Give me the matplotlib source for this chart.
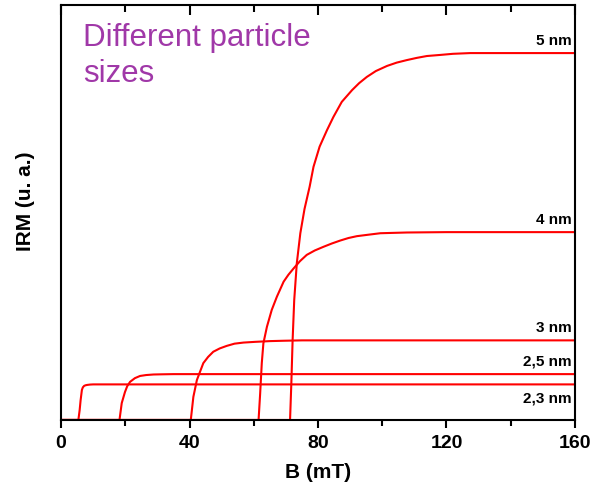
import matplotlib.pyplot as plt
from matplotlib.ticker import MultipleLocator

plt.rcParams['font.family'] = ['Liberation Sans', 'DejaVu Sans']

# IRM acquisition curves, read as (B in mT, IRM in a.u.)
b_23 = [0, 5.4, 5.8, 6.1, 6.5, 6.8, 7.2, 7.6, 8.1, 9.0, 10.0, 160]
irm_23 = [0, 0, 2.7, 5.4, 8.2, 8.9, 9.3, 9.45, 9.55, 9.65, 9.7, 9.7]

b_25 = [0, 18.2, 18.9, 19.9, 20.6, 21.5, 23.0, 24.6, 26.5, 28.8, 31.5, 35.0, 160]
irm_25 = [0, 0, 4.6, 7.6, 9.2, 10.4, 11.4, 12.0, 12.25, 12.4, 12.45, 12.5, 12.5]

b_30 = [0, 40.4, 41.2, 42.3, 44.3, 45.8, 47.4, 49.4, 51.6, 54.0, 56.8,
        60.5, 65.1, 69.5, 75.0, 160]
irm_30 = [0, 0, 6.3, 10.9, 15.5, 17.2, 18.6, 19.5, 20.2, 20.8, 21.1,
          21.3, 21.5, 21.6, 21.7, 21.7]

b_40 = [0, 61.5, 62.0, 62.5, 63.0, 64.1, 65.6, 67.2, 69.3, 70.8, 72.4,
        74.4, 76.5, 79.0, 81.7, 84.3, 86.9, 89.5, 92.1, 95.7, 99.4,
        103.5, 107.7, 120, 160]
irm_40 = [0, 0, 7.3, 15.5, 20.9, 25.4, 30.0, 33.6, 37.7, 39.6, 41.3,
          43.3, 45.0, 46.2, 47.2, 48.1, 48.9, 49.6, 50.1, 50.5, 50.9,
          51.0, 51.1, 51.2, 51.2]

b_50 = [0, 71.3, 71.7, 72.1, 72.6, 73.4, 74.5, 75.8, 77.4, 78.6, 80.5,
        82.8, 84.8, 87.4, 90.6, 92.8, 95.2, 98.0, 101.5, 104.5, 107.7,
        110.8, 113.9, 118.1, 122.0, 127.4, 160]
irm_50 = [0, 0, 10.0, 21.8, 32.7, 42.7, 50.9, 57.5, 63.6, 69.0, 74.5,
          79.0, 82.6, 86.7, 89.9, 91.8, 93.5, 95.1, 96.5, 97.4, 98.1,
          98.7, 99.2, 99.5, 99.8, 100, 100]

curves = [(b_23, irm_23), (b_25, irm_25), (b_30, irm_30),
          (b_40, irm_40), (b_50, irm_50)]
size_labels = ['2,3 nm', '2,5 nm', '3 nm', '4 nm', '5 nm']

fig = plt.figure(figsize=(5.93, 4.87), dpi=100)
ax = fig.add_axes([0.1029, 0.1376, 0.8667, 0.8521])

for (b, m), lab in zip(curves, size_labels):
    ax.plot(b, m, color='red', lw=1.5, solid_joinstyle='round')
    # size label sits above its plateau, except the smallest one below
    if lab == '2,3 nm':
        ax.annotate(lab, xy=(159, m[-1]), xytext=(0, -5),
                    textcoords='offset points', ha='right', va='top',
                    fontsize=11, fontweight='bold')
    else:
        ax.annotate(lab, xy=(159, m[-1]), xytext=(0, 4),
                    textcoords='offset points', ha='right', va='bottom',
                    fontsize=11, fontweight='bold')

ax.set_xlim(0, 160)
ax.set_ylim(0, 113.1)
ax.xaxis.set_major_locator(MultipleLocator(40))
ax.xaxis.set_minor_locator(MultipleLocator(20))
ax.set_yticks([])

ax.tick_params(axis='x', which='major', direction='out', length=6, width=1.5,
               labelsize=14, pad=5)
ax.tick_params(axis='x', which='minor', direction='out', length=4, width=1.5)

# short inward marks along the top edge at the same tick positions
xform = ax.get_xaxis_transform()
major_locs = ax.xaxis.get_majorticklocs()
minor_locs = ax.xaxis.get_minorticklocs()
ax.vlines(major_locs, 1 - 0.023, 1, transform=xform, colors='black',
          lw=1.5, clip_on=False)
ax.vlines(minor_locs, 1 - 0.016, 1, transform=xform, colors='black',
          lw=1.5, clip_on=False)

for lbl in ax.get_xticklabels():
    lbl.set_fontweight('bold')
for sp in ax.spines.values():
    sp.set_linewidth(1.5)
    sp.set_zorder(3)

ax.set_xlabel('B (mT)', fontsize=15, fontweight='bold', labelpad=8)
ax.set_ylabel('IRM (u. a.)', fontsize=15, fontweight='bold')
ax.yaxis.set_label_coords(-0.05, 0.528)

ax.text(0.043, 0.957, 'Different particle\nsizes', transform=ax.transAxes,
        ha='left', va='top', fontsize=22.5, color='#a038a8', linespacing=1.27)

fig.savefig('out.png', dpi=100)
